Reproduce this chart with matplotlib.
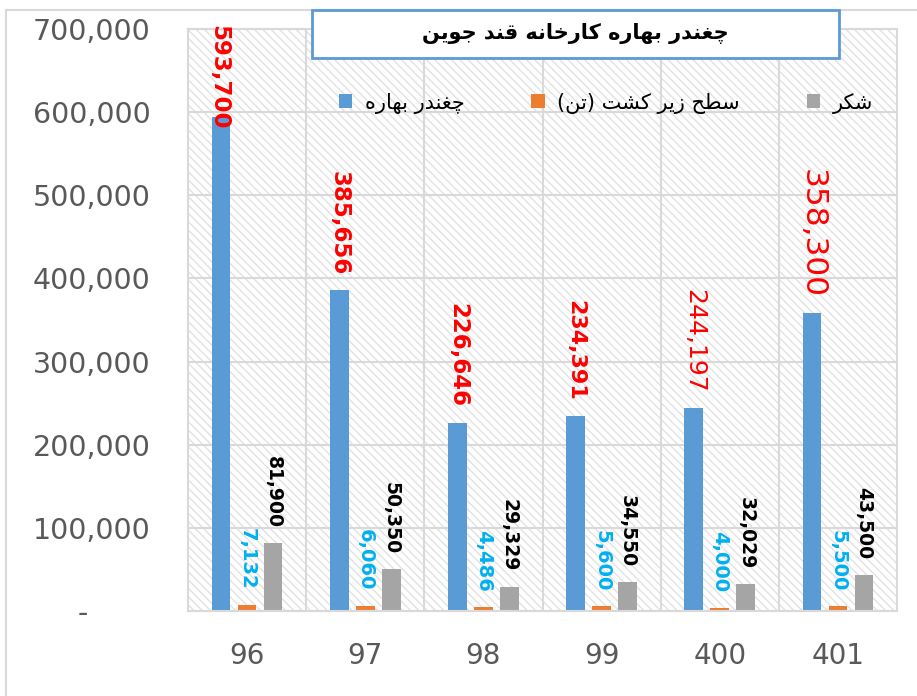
import matplotlib
matplotlib.use("Agg")
import matplotlib.pyplot as plt
import matplotlib.transforms as mtransforms
from matplotlib.patches import Rectangle
import numpy as np

# داده ها
years = ['96', '97', '98', '99', '400', '401']
beet = [593700, 385656, 226646, 234391, 244197, 358300]
area = [7132, 6060, 4486, 5600, 4000, 5500]
sugar = [81900, 50350, 29329, 34550, 32029, 43500]

title_fa = 'چغندر بهاره کارخانه قند جوین'
names_fa = ['چغندر بهاره', 'سطح زیر کشت (تن)', 'شکر']

# شکل حروف عربی/فارسی (matplotlib خودش اتصال حروف را انجام نمی دهد)
FORMS = {
    'ا': '\uFE8D\uFE8E', 'ب': '\uFE8F\uFE90\uFE91\uFE92', 'ت': '\uFE95\uFE96\uFE97\uFE98',
    'ج': '\uFE9D\uFE9E\uFE9F\uFEA0', 'ح': '\uFEA1\uFEA2\uFEA3\uFEA4', 'خ': '\uFEA5\uFEA6\uFEA7\uFEA8',
    'د': '\uFEA9\uFEAA', 'ر': '\uFEAD\uFEAE', 'ز': '\uFEAF\uFEB0',
    'س': '\uFEB1\uFEB2\uFEB3\uFEB4', 'ش': '\uFEB5\uFEB6\uFEB7\uFEB8', 'ط': '\uFEC1\uFEC2\uFEC3\uFEC4',
    'غ': '\uFECD\uFECE\uFECF\uFED0', 'ق': '\uFED5\uFED6\uFED7\uFED8', 'ن': '\uFEE5\uFEE6\uFEE7\uFEE8',
    'ه': '\uFEE9\uFEEA\uFEEB\uFEEC', 'و': '\uFEED\uFEEE', 'چ': '\uFB7A\uFB7B\uFB7C\uFB7D',
    'ک': '\uFB8E\uFB8F\uFB90\uFB91', 'ی': '\uFBFC\uFBFD\uFBFE\uFBFF',
}


def fa(s):
    out = []
    for i, c in enumerate(s):
        f = FORMS.get(c)
        if f is None:
            out.append(c)
            continue
        prev = s[i - 1] if i > 0 else ''
        nxt = s[i + 1] if i + 1 < len(s) else ''
        jp = len(FORMS.get(prev, '')) == 4
        jn = len(f) == 4 and nxt in FORMS
        out.append(f[3] if (jp and jn) else f[1] if jp else f[2] if jn else f[0])
    return ''.join(reversed(out)).translate(str.maketrans('()', ')('))


plt.rcParams['font.family'] = 'DejaVu Sans'
plt.rcParams['hatch.linewidth'] = 1.0

fig = plt.figure(figsize=(9.17, 6.96), dpi=100)
ax = fig.add_axes([188 / 917, 85 / 696, 709 / 917, 582 / 696])

# زمینه هاشور خورده
ax.add_patch(Rectangle((0, 0), 1, 1, transform=ax.transAxes, facecolor='white',
                       edgecolor='#E2E2E2', hatch='\\\\\\\\', lw=0, zorder=0))

x = np.arange(len(years))
off, w = 0.22, 0.157
b1 = ax.bar(x - off, beet, w, color='#5B9BD5', zorder=2)
b2 = ax.bar(x, area, w, color='#ED7D31', zorder=2)
b3 = ax.bar(x + off, sugar, w, color='#A5A5A5', zorder=2)

ax.set_xlim(-0.5, len(years) - 0.5)
ax.set_ylim(0, 700000)
ax.set_yticks(np.arange(0, 700001, 100000))
ax.set_yticklabels(['-'] + [f'{v:,}' for v in range(100000, 700001, 100000)])
ax.set_xticks(x)
ax.set_xticklabels(years)
ax.set_xticks(x[:-1] + 0.5, minor=True)
ax.tick_params(axis='y', length=0, pad=27, labelsize=20.5, labelcolor='#595959')
ax.tick_params(axis='x', which='both', length=0, pad=22, labelsize=20, labelcolor='#595959')
ax.grid(axis='y', color='#D9D9D9', lw=1.5, zorder=1)
ax.grid(axis='x', which='minor', color='#D9D9D9', lw=1.5, zorder=1)
ax.set_axisbelow(True)
for s in ax.spines.values():
    s.set_color('#D9D9D9')
    s.set_linewidth(1.5)

# جابجایی برچسب صفر ("-")
lbl0 = ax.get_yticklabels()[0]
lbl0.set_transform(lbl0.get_transform() + mtransforms.ScaledTranslation(-0.63, 0, fig.dpi_scale_trans))

# برچسب داده ها
red_bold = [True, True, True, True, False, False]
red_size = [16.5, 16.5, 16.5, 16, 18, 22.5]
for i, v in enumerate(beet):
    kw = dict(rotation=-90, ha='center', color='#FF0000', fontsize=red_size[i],
              fontweight='bold' if red_bold[i] else 'normal', zorder=5)
    if v > 0.75 * 700000:
        ax.annotate(f'{v:,}', (x[i] - off, 700000), xytext=(-2, 3), textcoords='offset points',
                    va='top', annotation_clip=False, **kw)
    else:
        ax.annotate(f'{v:,}', (x[i] - off, v), xytext=(0, 11), textcoords='offset points',
                    va='bottom', **kw)
for i, v in enumerate(area):
    ax.annotate(f'{v:,}', (x[i], v), xytext=(0, 11), textcoords='offset points', rotation=-90,
                ha='center', va='bottom', color='#00B0F0', fontsize=14, fontweight='bold', zorder=5)
for i, v in enumerate(sugar):
    ax.annotate(f'{v:,}', (x[i] + off, v), xytext=(0, 11), textcoords='offset points', rotation=-90,
                ha='center', va='bottom', color='black', fontsize=13.5, fontweight='bold', zorder=5)

# راهنما
fig.legend([b1, b2, b3], [fa(n) for n in names_fa], loc='center', bbox_to_anchor=(606 / 917, 1 - 103 / 696),
           ncol=3, frameon=False, fontsize=15, handlelength=0.65, handleheight=0.65,
           handletextpad=0.6, columnspacing=3.2)

# کادر عنوان
fig.add_artist(Rectangle((312 / 917, 1 - 58 / 696), 527 / 917, 48 / 696, transform=fig.transFigure,
                         facecolor='white', edgecolor='#5B9BD5', lw=2, zorder=6))
fig.text(575 / 917, 1 - 34 / 696, fa(title_fa), ha='center', va='center', fontsize=15,
         fontweight='bold', zorder=7)

# قاب بیرونی
fig.add_artist(plt.Line2D([6 / 917, 6 / 917], [0, 1 - 10 / 696], transform=fig.transFigure, color='#D9D9D9', lw=1.5))
fig.add_artist(plt.Line2D([6 / 917, 1], [1 - 10 / 696, 1 - 10 / 696], transform=fig.transFigure, color='#D9D9D9', lw=1.5))

fig.savefig('out.png', dpi=100)
